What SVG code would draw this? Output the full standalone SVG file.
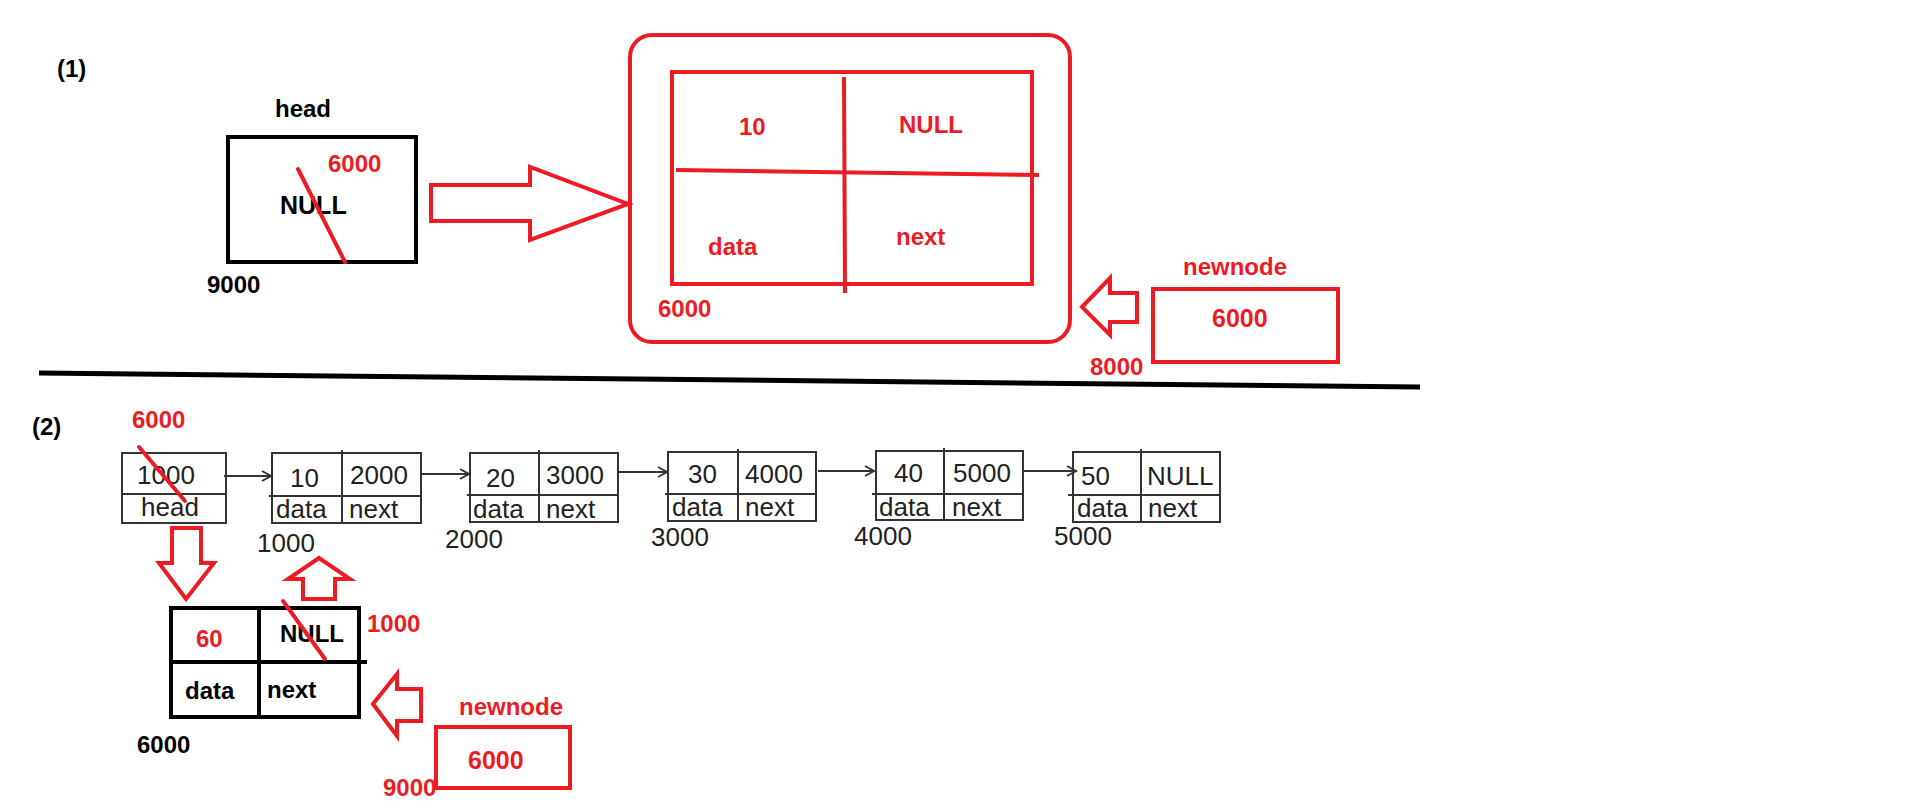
<svg xmlns="http://www.w3.org/2000/svg" width="1914" height="809" viewBox="0 0 1914 809">
<defs>
<style>
.b{font-family:"Liberation Sans",Arial,sans-serif;font-weight:bold;font-size:24px;fill:#000}
.r{font-family:"Liberation Sans",Arial,sans-serif;font-weight:bold;font-size:24px;fill:#ed1c24}
.t{font-family:"Liberation Sans",Arial,sans-serif;font-size:26px;fill:#222}
.rs{fill:none;stroke:#ed1c24;stroke-width:4}
.ks{fill:none;stroke:#000;stroke-width:4}
.gs{fill:none;stroke:#333;stroke-width:2}
.sl{stroke:#ed1c24;stroke-width:4;stroke-linecap:round}
.ar{fill:#fff;stroke:#ed1c24;stroke-width:4;stroke-linejoin:miter}
</style>
<marker id="chev" markerWidth="14" markerHeight="14" refX="11" refY="7" orient="auto" markerUnits="userSpaceOnUse">
<path d="M2,2 L11,7 L2,12" fill="none" stroke="#333" stroke-width="2"/>
</marker>
</defs>
<rect width="1914" height="809" fill="#fff"/>

<text class="b" x="57" y="77">(1)</text>
<text class="b" x="32" y="435">(2)</text>

<g id="head1">
<text class="b" x="275" y="117">head</text>
<rect class="ks" x="228" y="137" width="188" height="125"/>
<text class="r" x="328" y="172">6000</text>
<text class="b" x="280" y="214" style="font-size:25px">NULL</text>
<line class="sl" x1="298" y1="169" x2="345" y2="262"/>
<text class="b" x="207" y="293">9000</text>
</g>

<g id="node6000">
<rect class="rs" x="630" y="35" width="440" height="307" rx="22"/>
<rect class="rs" x="672" y="72" width="360" height="212"/>
<line class="sl" x1="844" y1="77" x2="845" y2="293" style="stroke-linecap:butt"/>
<line class="sl" x1="676" y1="170" x2="1039" y2="175" style="stroke-linecap:butt"/>
<text class="r" x="739" y="135">10</text>
<text class="r" x="899" y="133">NULL</text>
<text class="r" x="708" y="255">data</text>
<text class="r" x="896" y="245">next</text>
<text class="r" x="658" y="317">6000</text>
</g>

<g id="newnode1">
<text class="r" x="1183" y="275">newnode</text>
<rect class="rs" x="1153" y="289" width="185" height="73"/>
<text class="r" x="1212" y="327" style="font-size:25px">6000</text>
<text class="r" x="1090" y="375">8000</text>
</g>

<line x1="39" y1="373" x2="1420" y2="387" stroke="#000" stroke-width="5"/>

<g id="head2">
<text class="r" x="132" y="428">6000</text>
<rect class="gs" x="122" y="453" width="104" height="70"/>
<line class="gs" x1="122" y1="494" x2="226" y2="494"/>
<text class="t" x="137" y="484">1000</text>
<text class="t" x="141" y="516">head</text>
<line class="sl" x1="139" y1="447" x2="185" y2="501"/>
</g>

<g id="n1000">
<rect class="gs" x="272" y="453" width="149" height="70"/>
<line class="gs" x1="342" y1="450" x2="342" y2="523"/>
<line class="gs" x1="269" y1="496" x2="421" y2="496"/>
<text class="t" x="290" y="487">10</text>
<text class="t" x="350" y="484">2000</text>
<text class="t" x="276" y="518">data</text>
<text class="t" x="349" y="518">next</text>
<text class="t" x="257" y="552">1000</text>
</g>

<g id="n2000">
<rect class="gs" x="470" y="453" width="148" height="69"/>
<line class="gs" x1="539" y1="450" x2="539" y2="522"/>
<line class="gs" x1="467" y1="495" x2="618" y2="495"/>
<text class="t" x="486" y="487">20</text>
<text class="t" x="546" y="484">3000</text>
<text class="t" x="473" y="518">data</text>
<text class="t" x="546" y="518">next</text>
<text class="t" x="445" y="548">2000</text>
</g>

<g id="n3000">
<rect class="gs" x="668" y="452" width="148" height="69"/>
<line class="gs" x1="738" y1="449" x2="738" y2="521"/>
<line class="gs" x1="665" y1="494" x2="816" y2="494"/>
<text class="t" x="688" y="483">30</text>
<text class="t" x="745" y="483">4000</text>
<text class="t" x="672" y="516">data</text>
<text class="t" x="745" y="516">next</text>
<text class="t" x="651" y="546">3000</text>
</g>

<g id="n4000">
<rect class="gs" x="876" y="451" width="147" height="69"/>
<line class="gs" x1="944" y1="448" x2="944" y2="520"/>
<line class="gs" x1="872" y1="494" x2="1023" y2="494"/>
<text class="t" x="894" y="482">40</text>
<text class="t" x="953" y="482">5000</text>
<text class="t" x="879" y="516">data</text>
<text class="t" x="952" y="516">next</text>
<text class="t" x="854" y="545">4000</text>
</g>

<g id="n5000">
<rect class="gs" x="1073" y="452" width="147" height="70"/>
<line class="gs" x1="1141" y1="449" x2="1141" y2="522"/>
<line class="gs" x1="1068" y1="495" x2="1220" y2="495"/>
<text class="t" x="1081" y="485">50</text>
<text class="t" x="1147" y="485">NULL</text>
<text class="t" x="1077" y="517">data</text>
<text class="t" x="1148" y="517">next</text>
<text class="t" x="1054" y="545">5000</text>
</g>

<g id="newnode6000">
<rect class="ks" x="171" y="608" width="188" height="109"/>
<line class="ks" x1="259" y1="608" x2="259" y2="717"/>
<line class="ks" x1="171" y1="662" x2="367" y2="662"/>
<text class="r" x="196" y="647">60</text>
<text class="b" x="280" y="642">NULL</text>
<line class="sl" x1="283" y1="601" x2="325" y2="659"/>
<text class="r" x="367" y="632">1000</text>
<text class="b" x="185" y="699">data</text>
<text class="b" x="267" y="698">next</text>
<text class="b" x="137" y="753">6000</text>
</g>

<g id="newnode2">
<text class="r" x="459" y="715">newnode</text>
<text class="r" x="383" y="796">9000</text>
<rect class="rs" x="436" y="727" width="134" height="61"/>
<text class="r" x="468" y="769" style="font-size:25px">6000</text>
</g>

<g id="connectors">
<line class="gs" x1="224" y1="476" x2="271" y2="476" marker-end="url(#chev)"/>
<line class="gs" x1="421" y1="474" x2="469" y2="474" marker-end="url(#chev)"/>
<line class="gs" x1="618" y1="472" x2="667" y2="472" marker-end="url(#chev)"/>
<line class="gs" x1="818" y1="471" x2="874" y2="471" marker-end="url(#chev)"/>
<line class="gs" x1="1023" y1="471" x2="1076" y2="471" marker-end="url(#chev)"/>
<polygon class="ar" points="431,185 530,185 530,167 628,204 530,240 530,221 431,221"/>
<polygon class="ar" points="1082,307 1110,278 1110,293 1137,293 1137,322 1110,322 1110,335"/>
<polygon class="ar" points="172,528 201,528 201,563 214,563 186,599 159,563 172,563"/>
<polygon class="ar" points="319,558 350,579 335,579 335,599 303,599 303,579 288,579"/>
<polygon class="ar" points="373,704 397,674 397,689 421,689 421,721 397,721 397,736"/>
</g>
</svg>
